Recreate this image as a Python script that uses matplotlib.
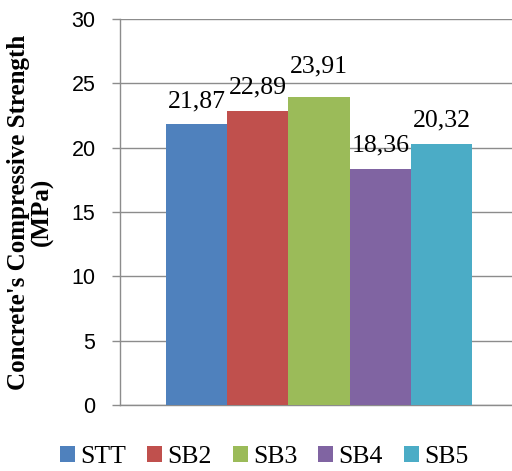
import matplotlib
matplotlib.use("Agg")
import matplotlib.pyplot as plt

series = ["STT", "SB2", "SB3", "SB4", "SB5"]
values = [21.87, 22.89, 23.91, 18.36, 20.32]
labels = ["21,87", "22,89", "23,91", "18,36", "20,32"]
colors = ["#4F81BD", "#C0504D", "#9BBB59", "#8064A2", "#4BACC6"]
yticks = [0, 5, 10, 15, 20, 25, 30]

fig = plt.figure(figsize=(5.12, 4.71), dpi=100)
ax = fig.add_axes([0.234, 0.140, 0.766, 0.8196])

grid_c = "#8C8C8C"
label_offsets = [11.5, 12.2, 18.0, 12.2, 12.5]
for i, (s, v, lab, c) in enumerate(zip(series, values, labels, colors)):
    ax.bar(i, v, width=1.0, color=c, label=s, zorder=3)
    ax.annotate(lab, (i, v), xytext=(0, label_offsets[i]), textcoords="offset points",
                ha="center", va="baseline", fontsize=18.5,
                family="Liberation Serif", zorder=4)

ax.set_xlim(-1.25, 5.15)
ax.set_ylim(0, 30)
ax.set_yticks(yticks)
ax.set_yticklabels([str(t) for t in yticks], family="Liberation Sans", fontsize=15.5)
ax.set_xticks([])
ax.yaxis.grid(True, color=grid_c, linewidth=1.0, zorder=0)
for sp in ["top", "right"]:
    ax.spines[sp].set_visible(False)
ax.spines["left"].set_color(grid_c)
ax.spines["bottom"].set_color(grid_c)
ax.spines["left"].set_linewidth(1.0)
ax.spines["bottom"].set_linewidth(1.0)
ax.tick_params(axis="y", length=5.5, width=1.0, color=grid_c, pad=12)

ax.set_ylabel("Concrete's Compressive Strength\n(MPa)", family="Liberation Serif",
              fontweight="bold", fontsize=18, linespacing=1.0)
ax.yaxis.set_label_coords(-0.168, 0.50)

fig.legend(loc="center", bbox_to_anchor=(0.516, 0.030), ncol=5, frameon=False,
           prop={"family": "Liberation Serif", "size": 18.5},
           handlelength=0.6, handleheight=0.6, handletextpad=0.2, columnspacing=0.8,
           borderaxespad=0, borderpad=0)

fig.savefig("out.png", dpi=100)
